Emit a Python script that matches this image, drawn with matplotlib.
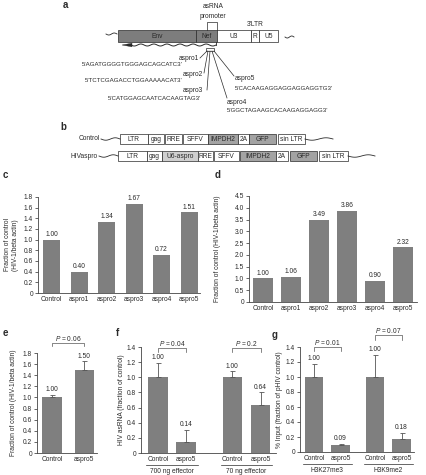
import numpy as np
import matplotlib
matplotlib.use("Agg")
import matplotlib.pyplot as plt
from matplotlib.patches import Rectangle, Polygon
from matplotlib.ticker import FuncFormatter, MultipleLocator

plt.rcParams["font.family"] = ["Liberation Sans", "DejaVu Sans"]
plt.rcParams["mathtext.fontset"] = "custom"
plt.rcParams["mathtext.it"] = "Liberation Sans:italic"
plt.rcParams["mathtext.rm"] = "Liberation Sans"

INK, BAR = "#2a2a2a", "#7f7f7f"
FS = 4.8

# --- data ---
c_labels = ["Control", "aspro1", "aspro2", "aspro3", "aspro4", "aspro5"]
c_vals = [1.00, 0.40, 1.34, 1.67, 0.72, 1.51]
d_vals = [1.00, 1.06, 3.49, 3.86, 0.90, 2.32]

e_labels = ["Control", "aspro5"]
e_vals = [1.00, 1.50]
e_err = [0.05, 0.15]
e_p = "$P$ = 0.06"

f_labels = ["Control", "aspro5", "Control", "aspro5"]
f_vals = [1.00, 0.14, 1.00, 0.64]
f_err = [0.19, 0.17, 0.08, 0.16]
f_groups = ["700 ng effector", "70 ng effector"]
f_p = ["$P$ = 0.04", "$P$ = 0.2"]

g_labels = ["Control", "aspro5", "Control", "aspro5"]
g_vals = [1.00, 0.09, 1.00, 0.18]
g_err = [0.18, 0.02, 0.30, 0.08]
g_groups = ["H3K27me3", "H3K9me2"]
g_p = ["$P$ = 0.01", "$P$ = 0.07"]

seqs = ["5'AGATGGGGTGGGAGCAGCATC3'", "5'TCTCGAGACCTGGAAAAACAT3'",
        "5'CATGGAGCAATCACAAGTAG3'", "5'GGCTAGAAGCACAAGAGGAGG3'",
        "5'CACAAGAGGAGGAGGAGGTG3'"]

W, H = 426, 475
fig = plt.figure(figsize=(W / 100, H / 100), dpi=100)
bg = fig.add_axes([0, 0, 1, 1])
bg.set_xlim(0, W); bg.set_ylim(H, 0); bg.axis("off")


def px_axes(l, t, r, b):
    return fig.add_axes([l / W, 1 - b / H, (r - l) / W, (b - t) / H])


def txt(x, y, s, ha="center", fs=FS, **kw):
    bg.text(x, y, s, ha=ha, va="center", fontsize=fs, color=INK, **kw)


def wave(x0, x1, y, amp=1.2, n=1.5, lw=0.6):
    t = np.linspace(0, 1, 120)
    bg.plot(x0 + (x1 - x0) * t, y + amp * np.sin(2 * np.pi * n * t), color=INK, lw=lw)


def box(x0, x1, y0, y1, label, fc="white"):
    bg.add_patch(Rectangle((x0, y0), x1 - x0, y1 - y0, fc=fc, ec=INK, lw=0.5))
    txt((x0 + x1) / 2, (y0 + y1) / 2 + 0.3, label)


# --- panel a: HIV 3' end diagram ---
txt(65, 5, "a", fs=7, fontweight="bold")
txt(213, 7, "asRNA"); txt(213, 16, "promoter")
bg.plot([207, 207, 217, 217], [30, 22, 22, 30], color=INK, lw=0.5)
txt(255, 25, "3'LTR")
wave(106, 117, 34, amp=1.0, n=1)
for x0, x1, lab, fc in [(118, 196, "Env", "#7d7d7d"), (196, 217, "Nef", "#7d7d7d"),
                        (217, 251, "U3", "white"), (251, 259, "R", "white"),
                        (259, 278, "U5", "white")]:
    box(x0, x1, 30, 42, lab, fc)
wave(285, 294, 37, amp=1.0, n=1)
bg.plot([216, 216], [42, 45], color=INK, lw=0.6)
wave(216, 131, 45, amp=1.0, n=6.5, lw=0.7)
bg.add_patch(Polygon([(122, 45), (132, 43.2), (132, 46.8)], closed=True, fc=INK, ec=INK, lw=0.3))
bg.add_patch(Rectangle((206, 48), 8, 3, fc="white", ec=INK, lw=0.5))

# fan of target lines and labels
fan = [((207, 51), (200, 58), "aspro1", 199, 58, "right", 183, 64, seqs[0]),
       ((208, 51), (204, 73), "aspro2", 203, 74, "right", 183, 80, seqs[1]),
       ((210, 51), (207, 90), "aspro3", 203, 91, "right", 201, 98, seqs[2]),
       ((212, 51), (227, 98), "aspro4", 227, 103, "left", 227, 111, seqs[3]),
       ((214, 51), (234, 76), "aspro5", 235, 79, "left", 235, 88, seqs[4])]
for (xa, ya), (xb, yb), lab, lx, ly, ha, sx, sy, seq in fan:
    bg.plot([xa, xb], [ya, yb], color=INK, lw=0.5)
    txt(lx, ly, lab, ha=ha)
    txt(sx, sy, seq, ha=ha, fs=4.4)

# --- panel b: vector maps ---
txt(63, 127, "b", fs=7, fontweight="bold")
txt(100, 139, "Control", ha="right")
wave(101, 120, 139, amp=1.2, n=1)
for x0, x1, lab, fc in [(120, 148, "LTR", "white"), (148, 164, "gag", "white"),
                        (165, 182, "RRE", "white"), (183, 208, "SFFV", "white"),
                        (208, 238, "IMPDH2", "#a3a3a3"), (238, 249, "2A", "white"),
                        (249, 276, "GFP", "#a3a3a3"), (278, 305, "sin LTR", "white")]:
    box(x0, x1, 134, 144, lab, fc)
wave(305, 333, 139, amp=1.2, n=1)

txt(98, 156, "HIVaspro", ha="right")
wave(99, 118, 156, amp=1.2, n=1)
for x0, x1, lab, fc in [(118, 147, "LTR", "white"), (147, 162, "gag", "white"),
                        (162, 198, "U6-aspro", "#cfcfcf"), (198, 213, "RRE", "white"),
                        (214, 239, "SFFV", "white"), (240, 276, "IMPDH2", "#a3a3a3"),
                        (276, 288, "2A", "white"), (290, 317, "GFP", "#a3a3a3"),
                        (319, 348, "sin LTR", "white")]:
    box(x0, x1, 151, 161, lab, fc)
wave(348, 375, 156, amp=1.2, n=1)


# --- bar panels ---
def style(ax, x, labels, ylim, step):
    ax.set_ylim(*ylim)
    ax.yaxis.set_major_locator(MultipleLocator(step))
    ax.yaxis.set_major_formatter(FuncFormatter(lambda v, _: "0" if abs(v) < 1e-9 else f"{v:.1f}"))
    ax.set_xticks(x)
    ax.set_xticklabels(labels)
    ax.tick_params(axis="x", length=0, pad=2.5, labelsize=FS, colors=INK)
    ax.tick_params(axis="y", length=2, width=0.5, pad=1.5, labelsize=FS, colors=INK)
    for s in ["top", "right"]:
        ax.spines[s].set_visible(False)
    for s in ["left", "bottom"]:
        ax.spines[s].set_linewidth(0.6)
        ax.spines[s].set_color("#444444")
    ax.patch.set_alpha(0)


def bars(ax, x, vals, width, err=None):
    ax.bar(x, vals, width, color=BAR, zorder=2)
    tops = np.array(vals, float)
    if err is not None:
        ax.errorbar(x, vals, yerr=[np.zeros(len(err)), err], fmt="none", ecolor="#555555",
                    elinewidth=0.6, capsize=1.8, capthick=0.6, zorder=3)
        tops = tops + np.array(err)
    for xi, v, t in zip(x, vals, tops):
        ax.annotate(f"{v:.2f}", (xi, t), xytext=(0, 1.2), textcoords="offset points",
                    ha="center", va="bottom", fontsize=FS, color=INK)


def bracket(ax, x0, x1, y, drop, text):
    ax.plot([x0, x0, x1, x1], [y - drop, y, y, y - drop], color="#555555", lw=0.5, clip_on=False)
    ax.text((x0 + x1) / 2, y, text, ha="center", va="bottom", fontsize=FS, color=INK, clip_on=False)


def groups(ax, spans, names):
    tr = ax.get_xaxis_transform()
    for (a, b), nm in zip(spans, names):
        ax.plot([a - 0.42, b + 0.42], [-0.11, -0.11], transform=tr, clip_on=False, color=INK, lw=0.5)
        ax.text((a + b) / 2, -0.175, nm, transform=tr, ha="center", va="center", fontsize=FS, color=INK)


def ylab(ax, text, right_px, left_px, width_px):
    # ylabel anchored by its right edge (bottom of the rotated text)
    ax.set_ylabel(text, fontsize=FS, color=INK, linespacing=1.1)
    ax.yaxis.set_label_coords((right_px - left_px) / width_px, 0.5)


# c
txt(5, 175, "c", fs=7, fontweight="bold")
ax = px_axes(38, 197, 200, 293)
xc = np.arange(len(c_vals))
bars(ax, xc, c_vals, 0.62)
style(ax, xc, c_labels, (0, 1.8), 0.2)
ax.set_xlim(-0.5, 5.4)
ylab(ax, "Fraction of control\n(HIV-1/beta actin)", 19, 38, 162)

# d
txt(218, 175, "d", fs=7, fontweight="bold")
ax = px_axes(249, 196, 417, 302)
bars(ax, xc, d_vals, 0.7)
style(ax, xc, c_labels, (0, 4.5), 0.5)
ax.set_xlim(-0.5, 5.5)
ylab(ax, "Fraction of control (HIV-1/beta actin)", 221, 249, 168)

# e
txt(5, 333, "e", fs=7, fontweight="bold")
ax = px_axes(37, 353, 97, 453)
xe = np.arange(2)
bars(ax, xe, e_vals, 0.6, e_err)
style(ax, xe, e_labels, (0, 1.8), 0.2)
ax.set_xlim(-0.47, 1.4)
bracket(ax, 0, 1, 1.98, 0.06, e_p)
ylab(ax, "Fraction of control (HIV-1/beta actin)", 17, 37, 60)

# f
txt(118, 333, "f", fs=7, fontweight="bold")
ax = px_axes(141, 347, 276, 453)
xf = np.array([0, 1, 2.65, 3.65])
bars(ax, xf, f_vals, 0.7, f_err)
style(ax, xf, f_labels, (0, 1.4), 0.2)
ax.set_xlim(-0.6, 4.2)
bracket(ax, xf[0], xf[1], 1.39, 0.05, f_p[0])
bracket(ax, xf[2], xf[3], 1.39, 0.05, f_p[1])
groups(ax, [(xf[0], xf[1]), (xf[2], xf[3])], f_groups)
ylab(ax, "HIV asRNA (fraction of control)", 125, 141, 135)

# g
txt(275, 335, "g", fs=7, fontweight="bold")
ax = px_axes(300, 347, 414, 452)
xg = np.array([0, 1, 2.3, 3.3])
bars(ax, xg, g_vals, 0.7, g_err)
style(ax, xg, g_labels, (0, 1.4), 0.2)
ax.set_xlim(-0.53, 3.77)
bracket(ax, xg[0], xg[1], 1.40, 0.05, g_p[0])
bracket(ax, xg[2], xg[3], 1.56, 0.06, g_p[1])
groups(ax, [(xg[0], xg[1]), (xg[2], xg[3])], g_groups)
ylab(ax, "% Input (fraction of pHIV control)", 283, 300, 114)

fig.savefig("out.png", dpi=100)
